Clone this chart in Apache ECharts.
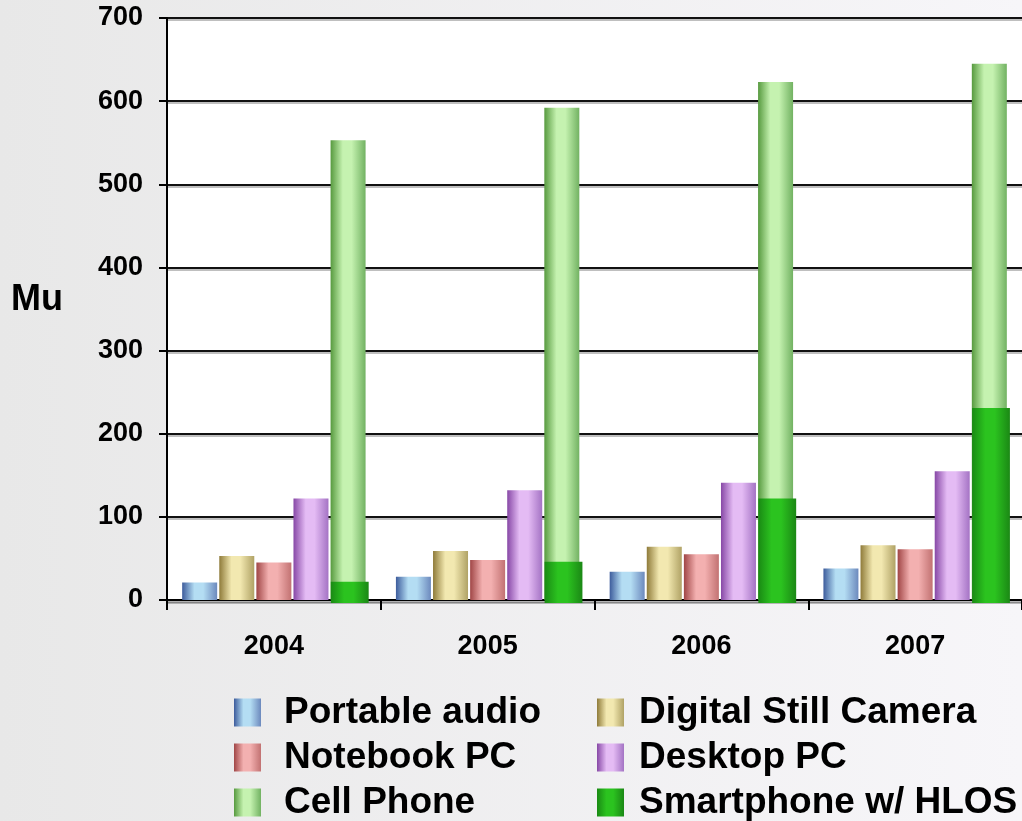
<!DOCTYPE html>
<html>
<head>
<meta charset="utf-8">
<title>Device shipments 2004-2007</title>
<script src="https://cdn.jsdelivr.net/npm/echarts@6/dist/echarts.min.js"></script>
<style>
  html, body { margin: 0; padding: 0; }
  #chart { width: 1022px; height: 821px; }
</style>
</head>
<body>
<div id="chart"></div>
<script>
// Annual shipments by device type, in millions of units (Mu)
const years = ['2004', '2005', '2006', '2007'];
const portableAudio = [21, 28, 34, 38];
const digitalCamera = [53, 59, 64, 66];
const notebookPC = [45, 48, 55, 61];
const desktopPC = [122, 132, 141, 155];
const cellPhone = [553, 592, 623, 645];
const smartphone = [22, 46, 122, 231];   // subset of cell phones, drawn over them
const yTicks = { min: 0, max: 700, step: 100 };
const unitLabel = 'Mu';

const FONT = '"Liberation Sans", Arial, sans-serif';

// Horizontal "cylinder" shading used by every bar
function shade(dark, light, mid) {
  return {
    type: 'linear', x: 0, y: 0, x2: 1, y2: 0,
    colorStops: [
      { offset: 0, color: dark },
      { offset: 0.35, color: light },
      { offset: 0.6, color: light },
      { offset: 1, color: mid }
    ]
  };
}

const fills = {
  portable: shade('#3d5c9c', '#b4ddf3', '#6c89bd'),
  camera: shade('#8f7b3a', '#f2e8b0', '#b0a265'),
  notebook: shade('#a04646', '#f3b0b0', '#c27272'),
  desktop: shade('#8748a6', '#e4bbf4', '#a473c4'),
  cell: shade('#579a3f', '#c5f2b0', '#72b262'),
  smart: shade('#1a8a14', '#2bc31f', '#1b8815')
};

function barSeries(name, values, color) {
  return {
    name: name,
    type: 'bar',
    data: values,
    barWidth: 35,
    barGap: '6%',
    itemStyle: { color: color },
    z: 2
  };
}

function legendColumn(left, names, gap) {
  return {
    orient: 'vertical', left: left, top: 694, height: 127, padding: 0,
    itemWidth: 27, itemHeight: 28, itemGap: 8,
    icon: 'rect', selectedMode: false,
    data: names,
    textStyle: {
      fontFamily: FONT, fontSize: 37, fontWeight: 'bold', color: '#000',
      padding: [0, 0, 0, gap]
    }
  };
}

const chart = echarts.init(document.getElementById('chart'));

chart.setOption({
  backgroundColor: {
    type: 'linear', x: 0, y: 0, x2: 1, y2: 0,
    colorStops: [
      { offset: 0, color: '#e8e8e8' },
      { offset: 1, color: '#f7f6f9' }
    ]
  },
  animation: false,
  textStyle: { fontFamily: FONT },
  grid: {
    left: 167, top: 18, bottom: 221, right: -5,
    show: true, backgroundColor: '#ffffff', borderWidth: 0
  },
  // Unit caption to the left of the value axis
  graphic: [{
    type: 'text',
    style: {
      x: 37, y: 300, text: unitLabel,
      align: 'center', verticalAlign: 'middle',
      font: 'bold 36px ' + FONT, fill: '#000'
    }
  }],
  legend: [
    legendColumn(234, ['Portable audio', 'Notebook PC', 'Cell Phone'], 18),
    legendColumn(597, ['Digital Still Camera', 'Desktop PC',
      { name: 'Smartphone w/ HLOS', itemStyle: { color: fills.smart } }], 10)
  ],
  xAxis: {
    type: 'category',
    data: years,
    boundaryGap: true,
    axisLine: { lineStyle: { color: '#000', width: 2, shadowColor: 'rgba(0,0,0,0.25)', shadowOffsetY: 3 } },
    axisTick: { show: true, length: 10, lineStyle: { color: '#000', width: 2 } },
    axisLabel: {
      fontFamily: FONT, fontSize: 27, fontWeight: 'bold', color: '#000', margin: 33
    },
    splitLine: { show: false }
  },
  yAxis: {
    type: 'value',
    min: yTicks.min, max: yTicks.max, interval: yTicks.step,
    axisLine: { show: true, lineStyle: { color: '#000', width: 2 } },
    axisTick: { show: true, length: 8, lineStyle: { color: '#000', width: 2 } },
    axisLabel: {
      fontFamily: FONT, fontSize: 27, fontWeight: 'bold', color: '#000', margin: 24
    },
    splitLine: {
      lineStyle: { color: '#111', width: 2, shadowColor: 'rgba(0,0,0,0.25)', shadowOffsetY: 2 }
    }
  },
  series: [
    barSeries('Portable audio', portableAudio, fills.portable),
    barSeries('Digital Still Camera', digitalCamera, fills.camera),
    barSeries('Notebook PC', notebookPC, fills.notebook),
    barSeries('Desktop PC', desktopPC, fills.desktop),
    barSeries('Cell Phone', cellPhone, fills.cell),
    {
      // Smartphone share sits in front of the cell phone column, slightly wider
      name: 'Smartphone w/ HLOS',
      type: 'custom',
      z: 3,
      itemStyle: { color: fills.smart },
      data: smartphone.map(function (v, i) { return [i, v]; }),
      renderItem: function (params, api) {
        const top = api.coord([api.value(0), api.value(1)]);
        const base = api.coord([api.value(0), 0]);
        const band = api.size([1, 0])[0];
        const w = band * 0.177;
        const cx = base[0] + band * 0.355;
        return {
          type: 'rect',
          shape: { x: cx - w / 2, y: top[1], width: w, height: base[1] - top[1] + 3 },
          style: { fill: fills.smart }
        };
      }
    }
  ]
});
</script>
</body>
</html>
